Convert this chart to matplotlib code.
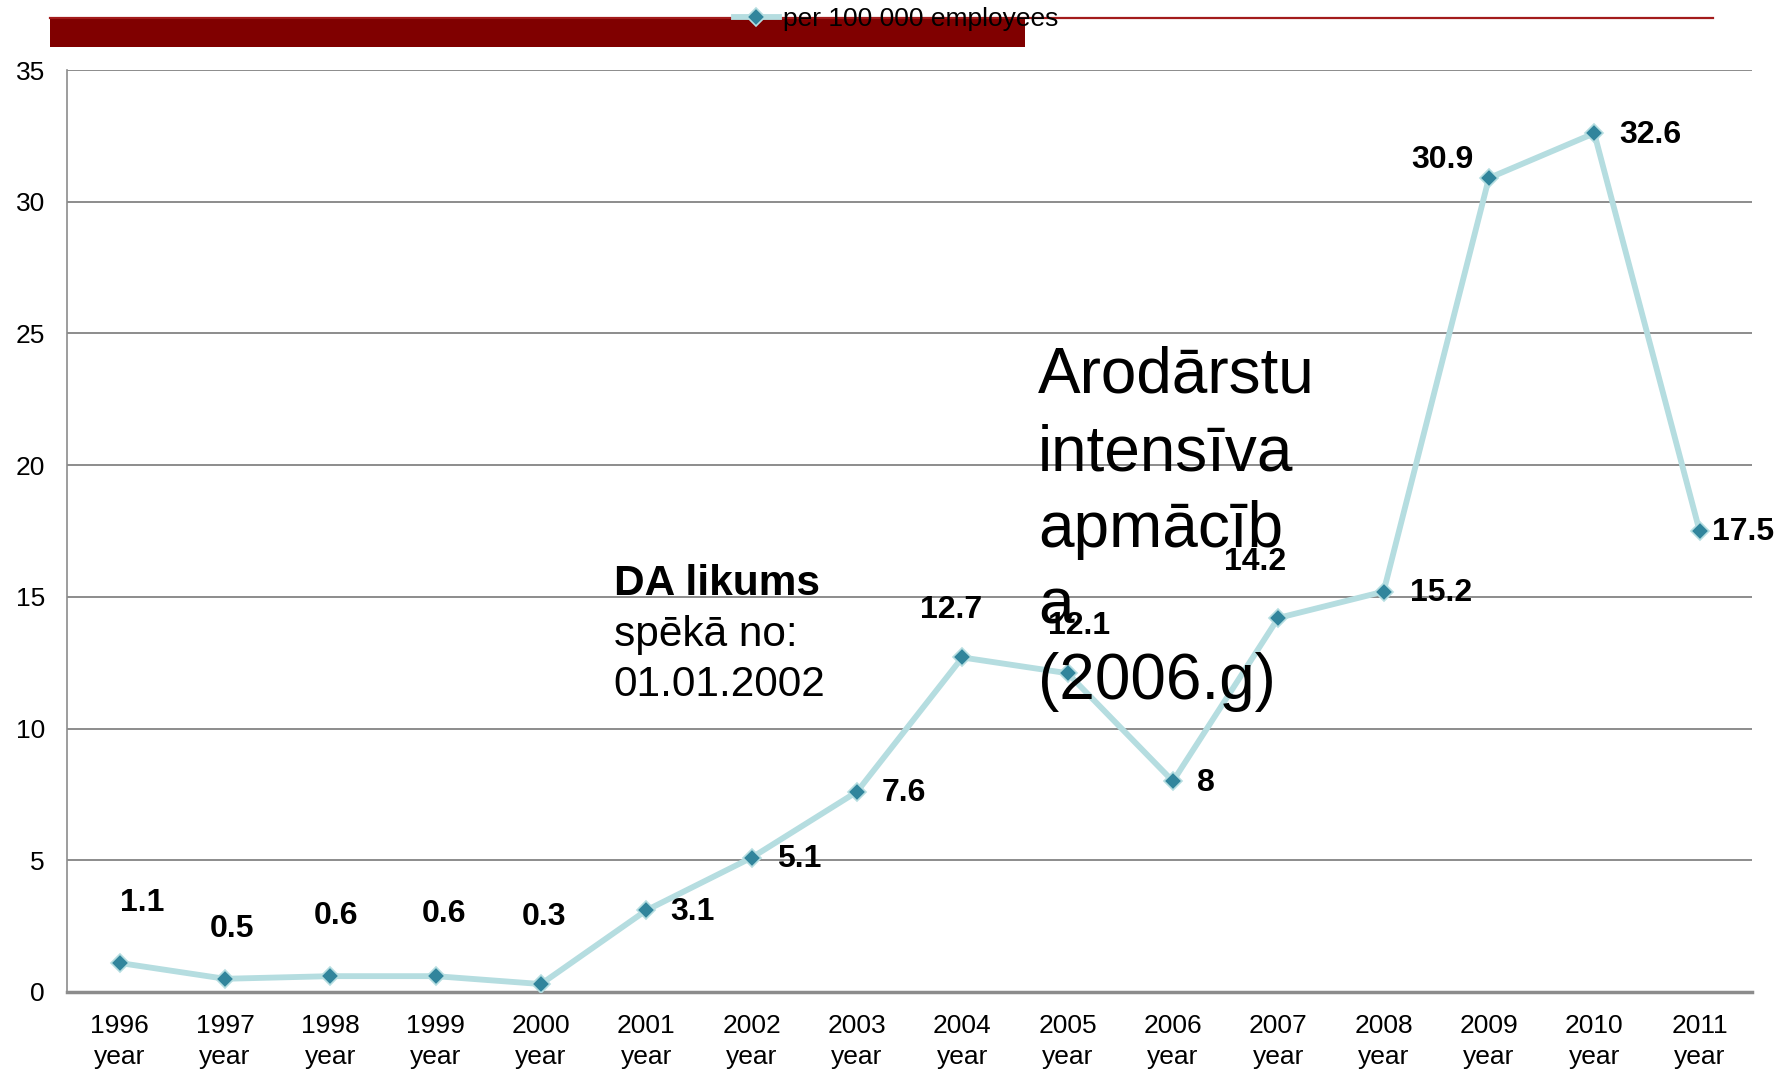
import matplotlib.pyplot as plt
from matplotlib.patches import Rectangle
from matplotlib.lines import Line2D

# Data
years = ['1996', '1997', '1998', '1999', '2000', '2001', '2002', '2003',
         '2004', '2005', '2006', '2007', '2008', '2009', '2010', '2011']
values = [1.1, 0.5, 0.6, 0.6, 0.3, 3.1, 5.1, 7.6, 12.7, 12.1, 8, 14.2, 15.2, 30.9, 32.6, 17.5]
value_labels = ['1.1', '0.5', '0.6', '0.6', '0.3', '3.1', '5.1', '7.6',
                '12.7', '12.1', '8', '14.2', '15.2', '30.9', '32.6', '17.5']
series_name = 'per 100 000 employees'
note_da = ['DA likums', 'spēkā no:', '01.01.2002']
note_arod = ['Arodārstu', 'intensīva', 'apmācīb', 'a', '(2006.g)']

# label offsets (points) and alignment for each data label
label_pos = [
    (16, 43, 'center'), (5, 36, 'center'), (4, 43, 'center'), (6, 45, 'center'),
    (2, 48, 'center'), (17, -1, 'left'), (18, -1, 'left'), (18, -1, 'left'),
    (-8, 34, 'center'), (8, 34, 'center'), (17, -1, 'left'), (-17, 40, 'center'),
    (19, -1, 'left'), (-11, 13, 'right'), (18, -1, 'left'), (9, -1, 'left'),
]

plt.rcParams['font.family'] = ['Liberation Sans', 'DejaVu Sans']

fig = plt.figure(figsize=(17.88, 10.71), dpi=100)
ax = fig.add_axes([0.0375, 0.0738, 0.9425, 0.8608])

line_col = '#b5dde0'
mark_col = '#31859c'
x = list(range(len(years)))
ax.plot(x, values, color=line_col, lw=4.2, marker='D', ms=9.5,
        markerfacecolor=mark_col, markeredgecolor=line_col, markeredgewidth=1.2,
        label=series_name, zorder=3)

for i, (v, txt) in enumerate(zip(values, value_labels)):
    dx, dy, ha = label_pos[i]
    ax.annotate(txt, (i, v), xytext=(dx, dy), textcoords='offset points',
                ha=ha, va='center', fontsize=23, fontweight='bold', zorder=4)

ax.set_ylim(0, 35)
ax.set_xlim(-0.5, 15.5)
ax.set_yticks(range(0, 36, 5))
ax.set_xticks(x)
ax.set_xticklabels([y + '\nyear' for y in years], linespacing=1.35)
ax.tick_params(axis='both', length=0, labelsize=19)
ax.tick_params(axis='y', pad=16)
ax.tick_params(axis='x', pad=16)
ax.grid(True, axis='y', color='#8c8c8c', lw=1.4)
ax.set_axisbelow(True)
for s in ['top', 'right']:
    ax.spines[s].set_visible(False)
ax.spines['left'].set_color('#8c8c8c')
ax.spines['left'].set_linewidth(1.2)
ax.spines['bottom'].set_color('#8c8c8c')
ax.spines['bottom'].set_linewidth(2.5)

# notes
ys_da = [15.49, 13.55, 11.65]
for k, t in enumerate(note_da):
    ax.text(4.69, ys_da[k], t, fontsize=30.5, va='center', ha='left',
            fontweight='bold' if k == 0 else 'normal', zorder=5)

ys_arod = [23.4, 20.45, 17.55, 14.65, 11.75]
for k, t in enumerate(note_arod):
    ax.text(8.72, ys_arod[k], t, fontsize=46, va='center', ha='left', zorder=5)

# header bar and legend
fig.add_artist(Rectangle((0.028, 0.956), 0.545, 0.028, transform=fig.transFigure,
                         color='#800000', lw=0))
fig.add_artist(Line2D([0.028, 0.958], [0.983, 0.983], transform=fig.transFigure,
                      color='#a31c1c', lw=1.6))
leg = fig.legend(loc='center left', bbox_to_anchor=(0.403, 0.982), frameon=False,
                 fontsize=19, handlelength=1.7, handletextpad=0.15, borderpad=0)
leg.set_zorder(10)

fig.savefig('out.png', dpi=100)
